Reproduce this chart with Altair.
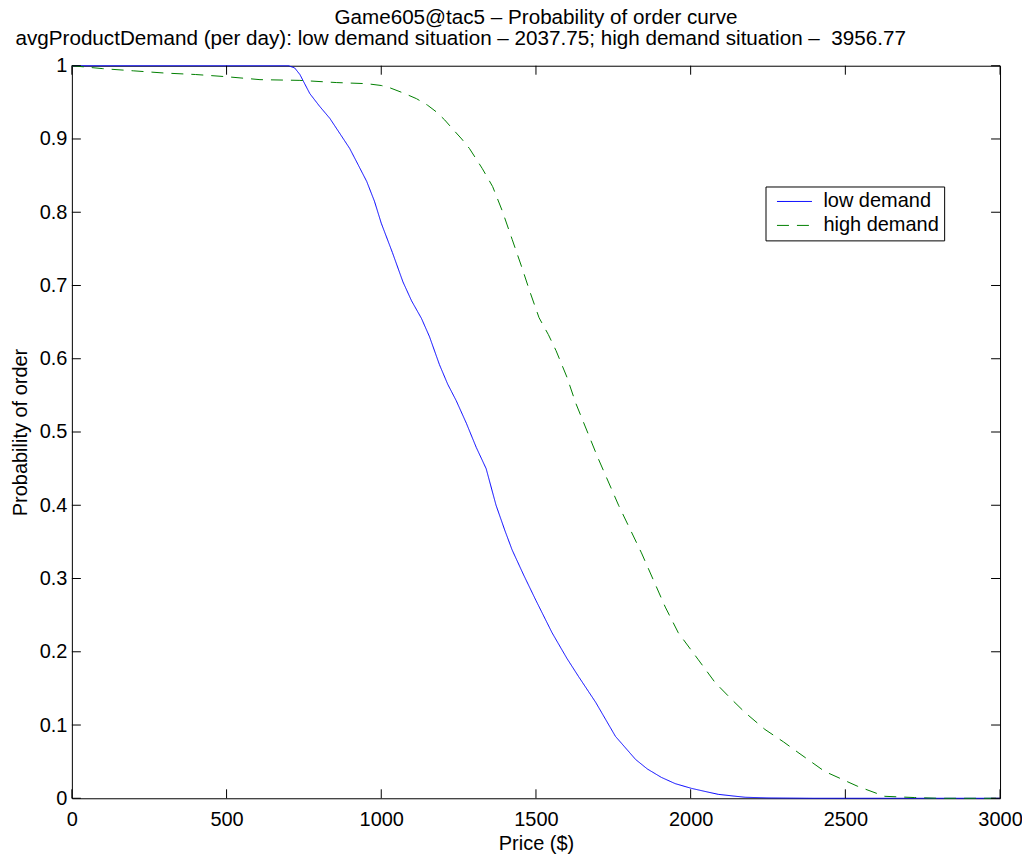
import altair as alt
import pandas as pd

FONT = "Liberation Sans"

# ---- data ----
series_names = ["low demand", "high demand"]
series_colors = ["#0000ff", "#008000"]

low_price = [0, 700, 720, 737, 769, 800, 834, 870, 898, 925, 953, 978, 1000, 1036,
             1070, 1098, 1130, 1156, 1188, 1215, 1242, 1275, 1307, 1339, 1371, 1400,
             1423, 1460, 1500, 1552, 1600, 1638, 1693, 1757, 1822, 1860, 1905, 1950,
             2002, 2050, 2089, 2140, 2176, 2250, 2400, 3000]
low_prob = [1.0, 1.0, 0.997, 0.988, 0.962, 0.945, 0.928, 0.905, 0.887, 0.865, 0.842,
            0.815, 0.785, 0.745, 0.705, 0.679, 0.655, 0.630, 0.592, 0.565, 0.543,
            0.512, 0.479, 0.450, 0.400, 0.365, 0.339, 0.305, 0.270, 0.226, 0.191,
            0.166, 0.131, 0.0845, 0.053, 0.040, 0.0286, 0.020, 0.0136, 0.009, 0.0054,
            0.003, 0.0014, 0.0005, 0.0, 0.0]

high_price = [0, 100, 200, 300, 400, 500, 608, 737, 856, 953, 1000, 1027, 1070, 1114,
              1150, 1178, 1205, 1230, 1260, 1285, 1326, 1360, 1391, 1423, 1455, 1480,
              1510, 1540, 1565, 1600, 1629, 1700, 1767, 1841, 1918, 1960, 2025, 2079,
              2130, 2176, 2240, 2300, 2347, 2433, 2540, 2627, 2723, 2800, 3000]
high_prob = [1.0, 0.996, 0.993, 0.990, 0.988, 0.985, 0.981, 0.980, 0.977, 0.9755, 0.973,
             0.970, 0.963, 0.955, 0.946, 0.937, 0.926, 0.914, 0.900, 0.887, 0.860,
             0.835, 0.802, 0.763, 0.724, 0.692, 0.656, 0.633, 0.611, 0.575, 0.539,
             0.465, 0.400, 0.335, 0.261, 0.226, 0.189, 0.158, 0.136, 0.117, 0.094,
             0.077, 0.0626, 0.0367, 0.0163, 0.0027, 0.001, 0.0, 0.0]

x_ticks = [0, 500, 1000, 1500, 2000, 2500, 3000]
y_ticks = [0, 0.1, 0.2, 0.3, 0.4, 0.5, 0.6, 0.7, 0.8, 0.9, 1.0]

title_line1 = "Game605@tac5 \u2013 Probability of order curve"
title_line2 = ("avgProductDemand (per day): low demand situation \u2013 2037.75; "
               "high demand situation \u2013\u00a0 3956.77")
x_title = "Price ($)"
y_title = "Probability of order"

# ---- layout / style ----
W, H = 930, 734
TICK_X = 29.0      # inward tick length in price units (~9px)
TICK_Y = 0.01226   # inward tick length in probability units (~9px)
TITLE_SIZE = 20.7

df = pd.concat([
    pd.DataFrame({"price": low_price, "prob": low_prob, "series": series_names[0]}),
    pd.DataFrame({"price": high_price, "prob": high_prob, "series": series_names[1]}),
], ignore_index=True)

xs = alt.Scale(domain=[0, 3000], nice=False, zero=False)
ys = alt.Scale(domain=[0, 1], nice=False, zero=False)

y_axis = alt.Axis(values=y_ticks, format=".1~f", ticks=False, tickSize=0, domain=False,
                  grid=False, labelPadding=5, labelFontSize=20, labelFont=FONT,
                  labelColor="black", labelBaseline="middle", labelFlush=False,
                  title=y_title, titleFont=FONT, titleFontSize=20, titleFontWeight="normal",
                  titleColor="black", titleX=-45, titleY=H / 2, titleAngle=270,
                  titleAlign="center", titleBaseline="alphabetic")

legend = alt.Legend(title=None, orient="none", legendX=695, legendY=121,
                    direction="vertical", fillColor="white", strokeColor="black",
                    padding=5, symbolType="stroke", symbolSize=1225, symbolStrokeWidth=1,
                    symbolOffset=6, labelFontSize=20, labelFont=FONT, labelColor="black",
                    labelOffset=11, clipHeight=20, rowPadding=4, labelLimit=300)

lines = alt.Chart(df).mark_line(strokeWidth=1).encode(
    x=alt.X("price:Q", scale=xs,
            axis=alt.Axis(values=x_ticks, format="d", ticks=False, tickSize=0, domain=False,
                          grid=False, labelPadding=11, labelFontSize=20, labelFont=FONT,
                          labelColor="black", labelFlush=False, title=x_title,
                          titleFont=FONT, titleFontSize=20, titleFontWeight="normal",
                          titleColor="black", titleY=51, titleBaseline="alphabetic")),
    y=alt.Y("prob:Q", scale=ys, axis=y_axis),
    color=alt.Color("series:N", scale=alt.Scale(domain=series_names, range=series_colors),
                    legend=legend),
    strokeDash=alt.StrokeDash("series:N",
                              scale=alt.Scale(domain=series_names, range=[[1, 0], [12, 8]]),
                              legend=legend),
    detail="series:N",
)

xt = pd.DataFrame({"v": x_ticks})
yt = pd.DataFrame({"v": y_ticks})

bottom_ticks = alt.Chart(xt).mark_rule(color="black", strokeWidth=1).encode(
    x=alt.X("v:Q", scale=xs, axis=None),
    y=alt.Y(datum=0, scale=ys, axis=y_axis),
    y2=alt.datum(TICK_Y),
)

top_ticks = alt.Chart(xt).mark_rule(color="black", strokeWidth=1).encode(
    x=alt.X("v:Q", scale=xs,
            axis=alt.Axis(orient="top", labels=False, ticks=False, domain=False, grid=False,
                          title=title_line2, titleFont=FONT, titleFontSize=TITLE_SIZE,
                          titleFontWeight="normal", titleColor="black", titleX=-57,
                          titleY=-21, titleAlign="left", titleBaseline="alphabetic",
                          titleAnchor="start")),
    y=alt.Y(datum=1, scale=ys, axis=y_axis),
    y2=alt.datum(1 - TICK_Y),
)

left_ticks = alt.Chart(yt).mark_rule(color="black", strokeWidth=1).encode(
    y=alt.Y("v:Q", scale=ys, axis=y_axis),
    x=alt.X(datum=0, scale=xs, axis=None),
    x2=alt.datum(TICK_X),
)

right_ticks = alt.Chart(yt).mark_rule(color="black", strokeWidth=1).encode(
    y=alt.Y("v:Q", scale=ys, axis=y_axis),
    x=alt.X(datum=3000, scale=xs, axis=None),
    x2=alt.datum(3000 - TICK_X),
)

chart = alt.layer(
    lines, bottom_ticks, top_ticks, left_ticks, right_ticks
).resolve_scale(x="independent").properties(
    width=W, height=H,
    autosize=alt.AutoSizeParams(type="none"),
    padding={"left": 64, "top": 57, "right": 22, "bottom": 60},
    background="white",
    title=alt.TitleParams(text=title_line1, anchor="middle", frame="group",
                          fontSize=TITLE_SIZE, font=FONT, fontWeight="normal",
                          color="black", baseline="alphabetic", offset=2, dy=19),
).configure_view(stroke="black", strokeWidth=1)

chart.save("out.html", embed_options={"renderer": "svg", "actions": False})
